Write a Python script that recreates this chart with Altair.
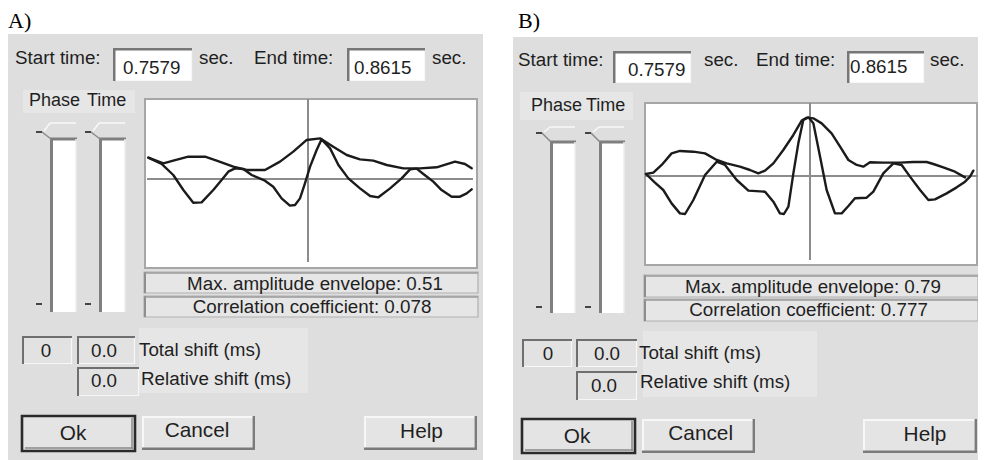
import altair as alt
import pandas as pd

# ---------------- values ----------------
# normalised lag (0 = centre line) and amplitude of the two traces in each panel
A_ENV_T = [-0.998, -0.904, -0.842, -0.748, -0.644, -0.571, -0.467, -0.383, -0.269, -0.175,
           -0.092, -0.008, 0.075, 0.158, 0.242, 0.325, 0.408, 0.492, 0.596, 0.700,
           0.804, 0.919, 0.981, 1.023]
A_ENV_AMP = [0.267, 0.196, 0.229, 0.279, 0.279, 0.229, 0.154, 0.113, 0.113, 0.217,
             0.342, 0.488, 0.508, 0.404, 0.300, 0.246, 0.229, 0.175, 0.133, 0.133,
             0.146, 0.217, 0.188, 0.133]
A_OSC_T = [-0.998, -0.915, -0.842, -0.779, -0.717, -0.665, -0.592, -0.540, -0.498, -0.456,
           -0.404, -0.352, -0.269, -0.217, -0.165, -0.113, -0.081, -0.050, -0.019, 0.013,
           0.054, 0.085, 0.138, 0.190, 0.252, 0.325, 0.388, 0.440, 0.513, 0.585,
           0.638, 0.679, 0.721, 0.783, 0.835, 0.898, 0.950, 0.992, 1.023]
A_OSC_AMP = [0.267, 0.188, 0.050, -0.138, -0.296, -0.292, -0.138, -0.013, 0.092, 0.133,
             0.125, 0.050, -0.021, -0.096, -0.242, -0.333, -0.325, -0.242, -0.054, 0.154,
             0.363, 0.496, 0.383, 0.175, 0.008, -0.117, -0.213, -0.229, -0.117, 0.008,
             0.121, 0.129, 0.063, -0.033, -0.138, -0.221, -0.221, -0.179, -0.129]
B_ENV_T = [-1.025, -0.979, -0.927, -0.865, -0.813, -0.729, -0.656, -0.583, -0.521, -0.438,
           -0.375, -0.323, -0.281, -0.229, -0.167, -0.104, -0.052, -0.021, 0.021, 0.073,
           0.135, 0.188, 0.240, 0.292, 0.333, 0.375, 0.458, 0.563, 0.646, 0.729,
           0.771, 0.833, 0.906, 0.969]
B_ENV_AMP = [0.025, 0.042, 0.138, 0.283, 0.313, 0.304, 0.283, 0.200, 0.158, 0.117,
             0.075, 0.033, 0.067, 0.158, 0.325, 0.513, 0.692, 0.729, 0.721, 0.658,
             0.533, 0.367, 0.200, 0.138, 0.117, 0.171, 0.167, 0.167, 0.175, 0.175,
             0.150, 0.108, 0.054, -0.017]
B_OSC_T = [-1.025, -0.969, -0.917, -0.865, -0.813, -0.781, -0.729, -0.656, -0.583, -0.531,
           -0.458, -0.385, -0.281, -0.229, -0.188, -0.163, -0.135, -0.104, -0.073, -0.042,
           -0.010, 0.021, 0.063, 0.104, 0.156, 0.198, 0.240, 0.281, 0.354, 0.396,
           0.458, 0.521, 0.573, 0.625, 0.688, 0.740, 0.781, 0.854, 0.917, 0.969,
           1.000, 1.021]
B_OSC_AMP = [0.025, -0.083, -0.175, -0.342, -0.467, -0.475, -0.300, 0.013, 0.179, 0.138,
             -0.050, -0.183, -0.196, -0.321, -0.467, -0.475, -0.383, 0.033, 0.408, 0.700,
             0.733, 0.658, 0.242, -0.175, -0.467, -0.467, -0.375, -0.279, -0.271, -0.196,
             0.033, 0.158, 0.138, -0.008, -0.175, -0.300, -0.292, -0.217, -0.142, -0.071,
             -0.008, 0.067]

PANEL_LABELS = ["A)", "B)"]
START_TIME = ["0.7579", "0.7579"]
END_TIME = ["0.8615", "0.8615"]
MAX_ENVELOPE = ["0.51", "0.79"]
CORRELATION = ["0.078", "0.777"]
TOTAL_SHIFT_IDX = ["0", "0"]
TOTAL_SHIFT_MS = ["0.0", "0.0"]
RELATIVE_SHIFT_MS = ["0.0", "0.0"]

# ---------------- layout (page pixels) ----------------
W, H = 970, 452
OX, OY = 8, 8
BG = "#dedede"
ZONE = "#e6e6e6"
DARK = "#7b7b7b"
LIGHT = "#f7f7f7"
BOXFILL = "#e4e4e4"
INK = "#1f1f1f"
FS = 18.8
FSB = 20.8

LAYOUT = [
    dict(label=(8, 27.5), bg=(8, 483, 34, 460), zones=[(23, 135, 90, 113), (139, 308, 328, 393)],
         tb1=(113, 192, 48, 81), tb2=(347, 425, 48, 81), plot=(145, 477, 99, 268),
         maxbox=(144, 478, 272, 293), corrbox=(144, 478, 296, 317),
         sliders=[50, 99], sw=26, stop=139, sbot=312, slight=123, dtop=132, dbot=304,
         b0=(22, 72, 336, 364), b1=(77, 135, 336, 364), b2=(77, 139, 367, 396),
         ok=(22, 135, 416, 451), cancel=(142, 255, 416, 450), help=(364, 477, 416, 450),
         t_start=(15, 58), t_v1=(123, 68), t_sec1=(199, 58), t_end=(254, 58), t_v2=(354, 68),
         t_sec2=(432, 58), t_phase=(29, 101), t_time=(87, 101), t_max=(315, 283.5),
         t_corr=(312, 307), t_b0=(46, 351), t_b1=(104, 351), t_b2=(104, 381),
         t_tot=(139, 349.5), t_rel=(141, 378.5), t_ok=(73, 433.5), t_cancel=(197, 431),
         t_help=(421.5, 431.5),
         xr=(148, 468), yr=(259, 99), zero=(-1.006, 1.031), centre=(1.0, -1.0375)),
    dict(label=(518, 27.5), bg=(513, 986, 37, 460), zones=[(520, 633, 92, 120), (643, 817, 331, 397)],
         tb1=(613, 691, 51, 83), tb2=(847, 924, 51, 83), plot=(645, 977, 103, 265),
         maxbox=(644, 978, 275, 297), corrbox=(644, 978, 299, 321),
         sliders=[550, 599], sw=25, stop=142, sbot=313, slight=127, dtop=133, dbot=307,
         b0=(522, 572, 339, 367), b1=(576, 637, 339, 367), b2=(576, 637, 371, 400),
         ok=(522, 635, 419, 453), cancel=(642, 755, 419, 453), help=(863, 977, 419, 453),
         t_start=(518, 59.5), t_v1=(628, 70), t_sec1=(704, 60), t_end=(756, 59.5), t_v2=(850, 67),
         t_sec2=(930, 59.5), t_phase=(531, 106), t_time=(586, 106), t_max=(813, 287),
         t_corr=(808.5, 310), t_b0=(548, 354), t_b1=(607, 354), t_b2=(604, 386),
         t_tot=(639, 352.7), t_rel=(640, 381.5), t_ok=(577, 436.5), t_cancel=(700.7, 434),
         t_help=(925, 435),
         xr=(650, 970), yr=(256, 96), zero=(-1.031, 1.05), centre=(0.9125, -1.05)),
]

rects, segs, texts = [], [], []


def rect(x, x2, y, y2, fill, stroke=None, sw=0):
    rects.append(dict(x=x, x2=x2, y=y, y2=y2, fill=fill, stroke=stroke or fill, sw=sw))


def seg(x, y, x2, y2, color, w):
    segs.append(dict(x=x, y=y, x2=x2, y2=y2, color=color, w=w))


def txt(s, pos, align="left", size=FS, font="sans"):
    texts.append(dict(x=pos[0], y=pos[1], label=s, fsize=size, halign=align, family=font))


def sunken(box, fill, dark=DARK, w=2):
    x, x2, y, y2 = box
    rect(x, x2, y, y2, fill)
    seg(x, y2 - 0.5, x2, y2 - 0.5, LIGHT, 1.2)
    seg(x2 - 0.5, y, x2 - 0.5, y2, LIGHT, 1.2)
    seg(x, y + w / 2, x2, y + w / 2, dark, w)
    seg(x + w / 2, y, x + w / 2, y2, dark, w)


def raised(box, fill=BOXFILL):
    x, x2, y, y2 = box
    rect(x, x2, y, y2, fill)
    seg(x, y + 1, x2, y + 1, LIGHT, 2)
    seg(x + 1, y, x + 1, y2, LIGHT, 2)
    seg(x, y2 - 1.2, x2, y2 - 1.2, DARK, 2.4)
    seg(x2 - 1.2, y, x2 - 1.2, y2, DARK, 2.4)


for k, L in enumerate(LAYOUT):
    rect(*L["bg"], BG)
    for z in L["zones"]:
        rect(*z, ZONE)
    sunken(L["tb1"], "#ffffff", "#777777", 2.5)
    sunken(L["tb2"], "#ffffff", "#777777", 2.5)
    rect(*L["plot"], "#ffffff", "#a6a6a6", 2)
    for b in ("maxbox", "corrbox"):
        x, x2, y, y2 = L[b]
        rect(x, x2, y, y2, "#e6e6e6", "#b0b0b0", 1.2)
        seg(x + 1, y, x + 1, y2, "#8e8e8e", 2)
        seg(x, y + 1, x2, y + 1, "#9a9a9a", 1.5)
    # sliders
    for sx in L["sliders"]:
        sw = L["sw"]
        rect(sx + 3, sx + sw, L["stop"] + 1, L["sbot"], "#ffffff")
        seg(sx + 1.5, L["stop"] - 1, sx + 1.5, L["sbot"], "#7f7f7f", 3)
        seg(sx, L["stop"], sx + sw + 1, L["stop"], "#7f7f7f", 3)
        seg(sx + sw, L["stop"], sx + sw, L["sbot"], "#eeeeee", 1.5)
        seg(sx, L["slight"], sx + sw, L["slight"], "#f8f8f8", 1.5)
        seg(sx - 6, L["dtop"] - 1, sx, L["slight"], "#f8f8f8", 1.5)
        seg(sx - 8, L["dtop"], sx + 1, L["stop"], "#8a8a8a", 1.5)
        seg(sx - 14, L["dtop"], sx - 8, L["dtop"], "#444444", 2)
        seg(sx - 14, L["dbot"], sx - 8, L["dbot"], "#444444", 2)
    sunken(L["b0"], "#e2e2e2", "#6f6f6f", 2)
    sunken(L["b1"], "#e2e2e2", "#6f6f6f", 2)
    sunken(L["b2"], "#e2e2e2", "#6f6f6f", 2)
    x, x2, y, y2 = L["ok"]
    rect(x, x2, y, y2, BOXFILL, "#2a2a2a", 2.6)
    seg(x + 3, y2 - 3, x2 - 2, y2 - 3, "#8a8a8a", 1.5)
    seg(x2 - 3, y + 2, x2 - 3, y2 - 2, "#8a8a8a", 1.5)
    raised(L["cancel"])
    raised(L["help"])

    txt(PANEL_LABELS[k], L["label"], font="serif", size=22)
    txt("Start time:", L["t_start"])
    txt(START_TIME[k], L["t_v1"])
    txt("sec.", L["t_sec1"])
    txt("End time:", L["t_end"])
    txt(END_TIME[k], L["t_v2"])
    txt("sec.", L["t_sec2"])
    txt("Phase", L["t_phase"], size=18)
    txt("Time", L["t_time"], size=18)
    txt("Max. amplitude envelope: " + MAX_ENVELOPE[k], L["t_max"], "center")
    txt("Correlation coefficient: " + CORRELATION[k], L["t_corr"], "center")
    txt(TOTAL_SHIFT_IDX[k], L["t_b0"], "center")
    txt(TOTAL_SHIFT_MS[k], L["t_b1"], "center")
    txt(RELATIVE_SHIFT_MS[k], L["t_b2"], "center")
    txt("Total shift (ms)", L["t_tot"])
    txt("Relative shift (ms)", L["t_rel"])
    txt("Ok", L["t_ok"], "center", FSB)
    txt("Cancel", L["t_cancel"], "center", FSB)
    txt("Help", L["t_help"], "center", FSB)

rects_df = pd.DataFrame(rects)
segs_df = pd.DataFrame(segs)
texts_df = pd.DataFrame(texts)

cx = alt.Scale(domain=[OX, OX + W], range=[0, W])
cy = alt.Scale(domain=[OY, OY + H], range=[0, H])

layers = [
    alt.Chart(rects_df).mark_rect().encode(
        x=alt.X("x:Q", scale=cx, axis=None), x2="x2:Q",
        y=alt.Y("y:Q", scale=cy, axis=None), y2="y2:Q",
        fill=alt.Fill("fill:N", scale=None),
        stroke=alt.Stroke("stroke:N", scale=None),
        strokeWidth=alt.StrokeWidth("sw:Q", scale=None),
    ),
    alt.Chart(segs_df).mark_rule(strokeCap="butt").encode(
        x=alt.X("x:Q", scale=cx, axis=None), x2="x2:Q",
        y=alt.Y("y:Q", scale=cy, axis=None), y2="y2:Q",
        color=alt.Color("color:N", scale=None),
        strokeWidth=alt.StrokeWidth("w:Q", scale=None),
    ),
]

# waveform traces, drawn through per-panel scales
wave_sets = [
    [("env", A_ENV_T, A_ENV_AMP), ("osc", A_OSC_T, A_OSC_AMP)],
    [("env", B_ENV_T, B_ENV_AMP), ("osc", B_OSC_T, B_OSC_AMP)],
]
for k, L in enumerate(LAYOUT):
    sx = alt.Scale(domain=[-1, 1], range=[L["xr"][0] - OX, L["xr"][1] - OX])
    sy = alt.Scale(domain=[-1, 1], range=[L["yr"][0] - OY, L["yr"][1] - OY])
    ax = pd.DataFrame([
        dict(t=L["zero"][0], t2=L["zero"][1], a=0.0, a2=0.0),
        dict(t=0.0, t2=0.0, a=L["centre"][0], a2=L["centre"][1]),
    ])
    layers.append(
        alt.Chart(ax).mark_rule(color="#8c8c8c", strokeWidth=2).encode(
            x=alt.X("t:Q", scale=sx, axis=None), x2="t2:Q",
            y=alt.Y("a:Q", scale=sy, axis=None), y2="a2:Q",
        )
    )
    rows = []
    for name, ts, amps in wave_sets[k]:
        for i, (t, a) in enumerate(zip(ts, amps)):
            rows.append(dict(curve=name, i=i, t=t, amp=a))
    layers.append(
        alt.Chart(pd.DataFrame(rows)).mark_line(
            color="#1b1b1b", strokeWidth=2.4, strokeJoin="round", strokeCap="round"
        ).encode(
            x=alt.X("t:Q", scale=sx, axis=None),
            y=alt.Y("amp:Q", scale=sy, axis=None),
            detail="curve:N",
            order="i:Q",
        )
    )

for fam, align, family in [("sans", "left", "Liberation Sans, Arial, sans-serif"),
                           ("sans", "center", "Liberation Sans, Arial, sans-serif"),
                           ("serif", "left", "Liberation Serif, Times New Roman, serif")]:
    sub = texts_df[(texts_df["family"] == fam) & (texts_df["halign"] == align)]
    if sub.empty:
        continue
    layers.append(
        alt.Chart(sub).mark_text(
            align=align,
            baseline="alphabetic" if fam == "serif" else "middle",
            font=family, color=INK if fam == "sans" else "#000000",
        ).encode(
            x=alt.X("x:Q", scale=cx, axis=None),
            y=alt.Y("y:Q", scale=cy, axis=None),
            text="label:N",
            size=alt.Size("fsize:Q", scale=None, legend=None),
        )
    )

chart = (
    alt.layer(*layers)
    .resolve_scale(x="independent", y="independent")
    .properties(width=W, height=H, padding=0, autosize=alt.AutoSizeParams(type="none"),
                background="#ffffff")
    .configure_view(stroke=None)
)

chart.save("out.html", embed_options={"renderer": "svg", "actions": False})
